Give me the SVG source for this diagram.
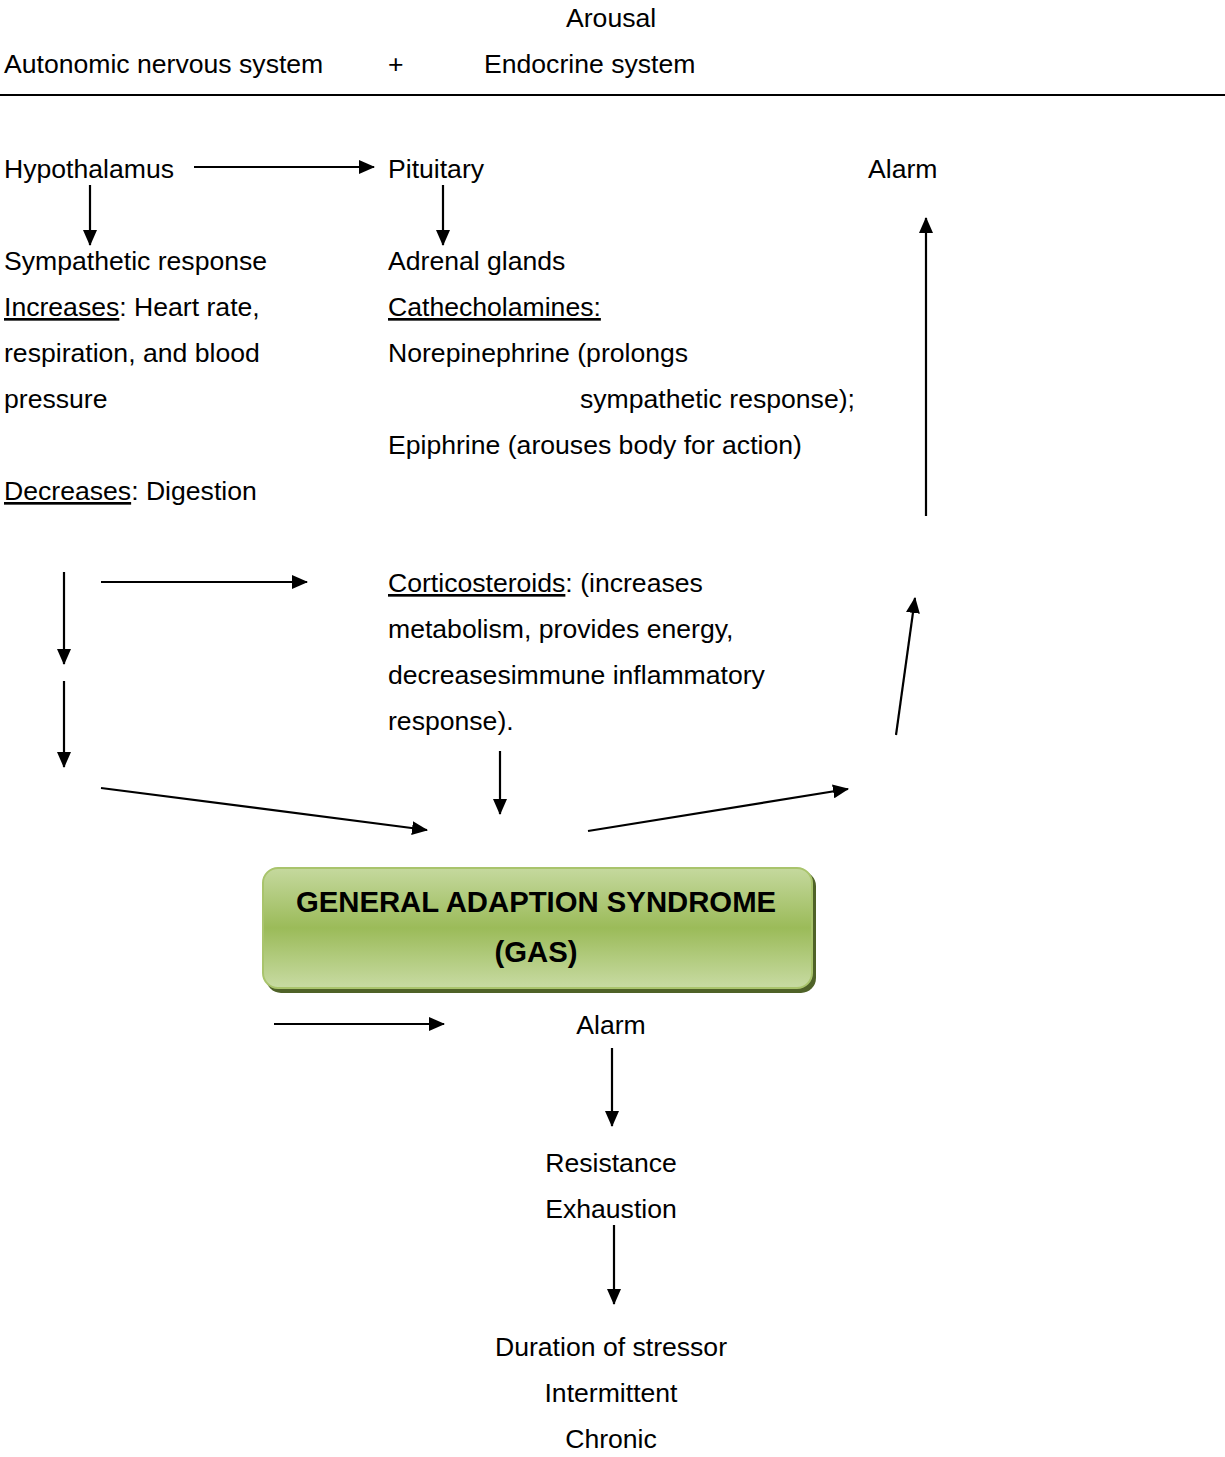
<svg xmlns="http://www.w3.org/2000/svg" width="1225" height="1457" viewBox="0 0 1225 1457">
<style>
text{font-family:"Liberation Sans",Arial,sans-serif;font-size:26.6px;fill:#000}
.c{text-anchor:middle}
.u{text-decoration:underline}
.t{font-weight:bold;font-size:29.3px;text-anchor:middle}
.a{stroke:#000;stroke-width:2.2;fill:none;marker-end:url(#ah)}
</style>
<defs>
<marker id="ah" markerUnits="userSpaceOnUse" markerWidth="16" markerHeight="14" refX="15" refY="7" orient="auto">
<path d="M0,0 L16,7 L0,14 z" fill="#000"/>
</marker>
<linearGradient id="g" x1="0" y1="0" x2="0" y2="1">
<stop offset="0" stop-color="#c5d99e"/>
<stop offset="0.5" stop-color="#9bbb59"/>
<stop offset="1" stop-color="#c8dba3"/>
</linearGradient>
</defs>
<rect width="1225" height="1457" fill="#fff"/>
<g id="header">
<text x="566" y="27">Arousal</text>
<text x="4" y="73">Autonomic nervous system</text>
<text x="388" y="73">+</text>
<text x="484" y="73">Endocrine system</text>
<line x1="0" y1="95" x2="1225" y2="95" stroke="#000" stroke-width="2"/>
</g>
<g id="hypothalamus"><text x="4" y="178">Hypothalamus</text></g>
<g id="pituitary"><text x="388" y="178">Pituitary</text></g>
<g id="alarm-top"><text x="868" y="178">Alarm</text></g>
<g id="sympathetic">
<text x="4" y="270">Sympathetic response</text>
<text x="4" y="316"><tspan class="u">Increases</tspan>: Heart rate,</text>
<text x="4" y="362">respiration, and blood</text>
<text x="4" y="408">pressure</text>
<text x="4" y="500"><tspan class="u">Decreases</tspan>: Digestion</text>
</g>
<g id="adrenal">
<text x="388" y="270">Adrenal glands</text>
<text x="388" y="316" class="u">Cathecholamines:</text>
<text x="388" y="362">Norepinephrine (prolongs</text>
<text x="580" y="408">sympathetic response);</text>
<text x="388" y="454">Epiphrine (arouses body for action)</text>
</g>
<g id="corticosteroids">
<text x="388" y="592"><tspan class="u">Corticosteroids</tspan>: (increases</text>
<text x="388" y="638">metabolism, provides energy,</text>
<text x="388" y="684">decreasesimmune inflammatory</text>
<text x="388" y="730">response).</text>
</g>
<g id="gas">
<rect x="266" y="871" width="550" height="122" rx="15" fill="#4f6228"/>
<rect x="263" y="868" width="549" height="120" rx="15" fill="url(#g)" stroke="#a9c46c" stroke-width="2"/>
<text class="t" x="536" y="912">GENERAL ADAPTION SYNDROME</text>
<text class="t" x="536" y="962">(GAS)</text>
</g>
<g id="alarm-bottom"><text class="c" x="611" y="1034">Alarm</text></g>
<g id="resistance">
<text class="c" x="611" y="1172">Resistance</text>
<text class="c" x="611" y="1218">Exhaustion</text>
</g>
<g id="duration">
<text class="c" x="611" y="1356">Duration of stressor</text>
<text class="c" x="611" y="1402">Intermittent</text>
<text class="c" x="611" y="1448">Chronic</text>
</g>
<g id="connectors">
<line class="a" x1="194" y1="167" x2="374" y2="167"/>
<line class="a" x1="90" y1="185" x2="90" y2="245"/>
<line class="a" x1="443" y1="185" x2="443" y2="245"/>
<line class="a" x1="926" y1="516" x2="926" y2="218"/>
<line class="a" x1="64" y1="572" x2="64" y2="664"/>
<line class="a" x1="64" y1="681" x2="64" y2="767"/>
<line class="a" x1="101" y1="582" x2="307" y2="582"/>
<line class="a" x1="101" y1="788" x2="427" y2="830"/>
<line class="a" x1="500" y1="751" x2="500" y2="814"/>
<line class="a" x1="588" y1="831" x2="848" y2="789"/>
<line class="a" x1="896" y1="735" x2="915" y2="598"/>
<line class="a" x1="274" y1="1024" x2="444" y2="1024"/>
<line class="a" x1="612" y1="1048" x2="612" y2="1126"/>
<line class="a" x1="614" y1="1225" x2="614" y2="1304"/>
</g>
</svg>
